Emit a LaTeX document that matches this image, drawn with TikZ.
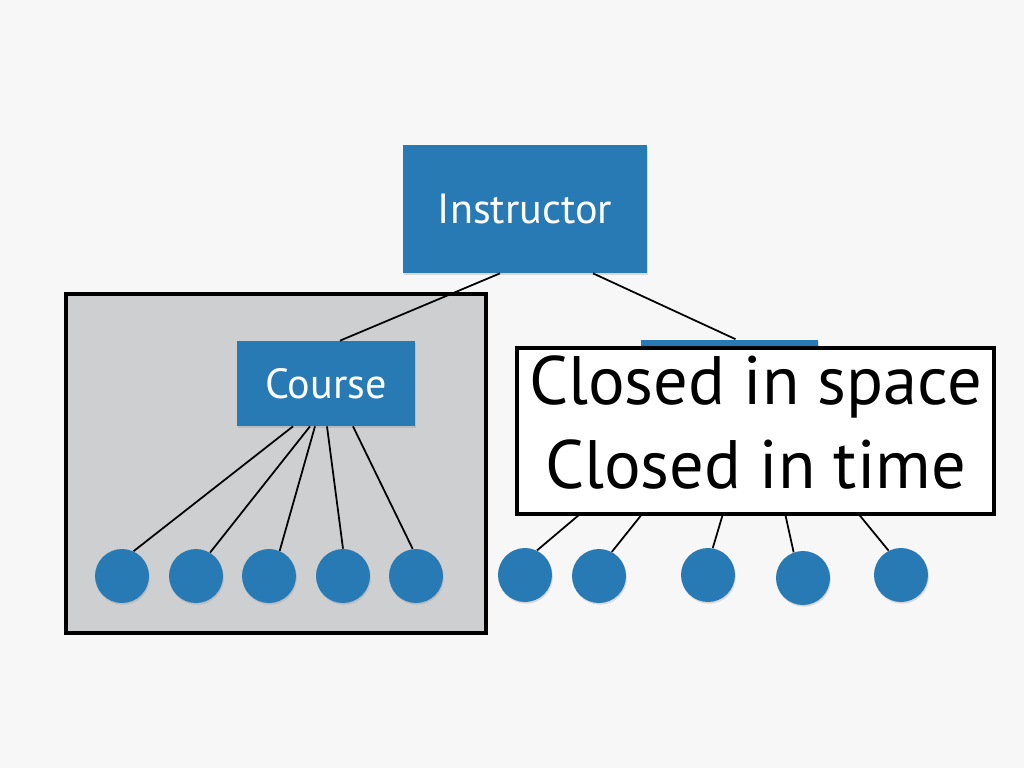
\documentclass[tikz,border=0pt]{standalone}
\usepackage{fontspec}
\setmainfont{PT Sans}
\usetikzlibrary{shadows}
\definecolor{slideblue}{RGB}{40,122,181}
\definecolor{slidegrey}{RGB}{206,207,209}
\definecolor{slidebg}{RGB}{247,247,247}
\tikzset{
  box/.style={fill=slideblue, text=white, inner sep=0pt,
    font=\fontsize{24}{28}\selectfont,
    drop shadow={opacity=0.25, shadow xshift=0.5pt, shadow yshift=-1pt}},
  dot/.style={circle, fill=slideblue, inner sep=0pt, minimum size=1.08cm,
    drop shadow={opacity=0.25, shadow xshift=0.5pt, shadow yshift=-1pt}},
  link/.style={line width=1pt, black},
  note/.style={draw=black, line width=2pt, fill=white, inner sep=0pt,
    align=center, text depth=0.36cm,
    font=\fontsize{39}{48}\selectfont}
}
\begin{document}
\begin{tikzpicture}[x=0.02cm, y=-0.02cm]
    \fill[slidebg] (0,0) rectangle (1024,768);
    \draw[line width=2pt, fill=slidegrey] (66,294) rectangle (486,633);

    \node[box, minimum width=4.88cm, minimum height=2.56cm] (instructor) at (525,209) {Instructor};
    \node[box, minimum width=3.56cm, minimum height=1.7cm] (course) at (326,383.5) {Course};
    \node[box, minimum width=3.56cm, minimum height=1.7cm] (other) at (729.5,382) {};

    \node[dot] (l1) at (122,576) {};
    \node[dot] (l2) at (196,576) {};
    \node[dot] (l3) at (269,576) {};
    \node[dot] (l4) at (343,576) {};
    \node[dot] (l5) at (416,576) {};
    \node[dot] (r1) at (525,575) {};
    \node[dot] (r2) at (599,576) {};
    \node[dot] (r3) at (708,575) {};
    \node[dot] (r4) at (803,578) {};
    \node[dot] (r5) at (901,575) {};

    \path[link] ([xshift=-0.5cm]instructor.south) edge ([xshift=0.28cm]course.north);
    \path[link] ([xshift=1.36cm]instructor.south) edge ([xshift=0.12cm]other.north);

    \path[link] ([xshift=-0.66cm]course.south) edge (l1.65);
    \path[link] ([xshift=-0.32cm]course.south) edge (l2.59);
    \path[link] ([xshift=-0.22cm]course.south) edge (l3.67);
    \path[link] ([xshift=0.02cm]course.south) edge (l4.90);
    \path[link] ([xshift=0.54cm]course.south) edge (l5.97);

    \path[link] ([xshift=-0.88cm]other.south) edge (r1.64);
    \path[link] ([xshift=-0.32cm]other.south) edge (r2.62);
    \path[link] ([xshift=0.4cm]other.south) edge (r3.80);
    \path[link] ([xshift=0.72cm]other.south) edge (r4.110);
    \path[link] ([xshift=1.12cm]other.south) edge (r5.117);

    \node[note, minimum width=9.54cm, minimum height=3.32cm] (closed) at (755.5,431) {Closed in space\\Closed in time};
\end{tikzpicture}
\end{document}
